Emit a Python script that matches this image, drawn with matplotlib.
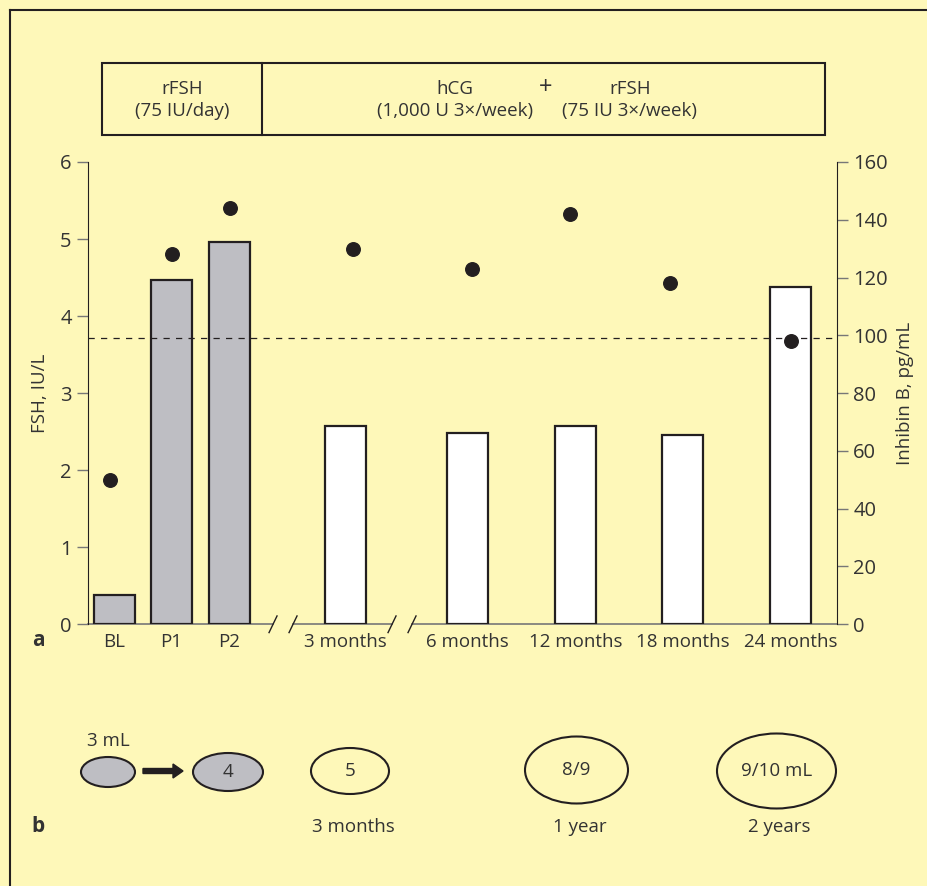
import matplotlib.pyplot as plt
from matplotlib.patches import Ellipse, Rectangle, FancyArrow

plt.rcParams['font.family'] = ['Open Sans', 'DejaVu Sans']

# data
categories = ["BL", "P1", "P2", "3 months", "6 months", "12 months", "18 months", "24 months"]
fsh = [0.38, 4.47, 4.96, 2.57, 2.48, 2.57, 2.46, 4.38]          # IU/L
inhibin_b = [50, 128, 144, 130, 123, 142, 118, 98]              # pg/mL
inhibin_ref = 99
phase = ["rFSH", "rFSH", "rFSH", "combo", "combo", "combo", "combo", "combo"]

volume_labels = ["", "4", "5", "8/9", "9/10 mL"]
volume_times = ["", "", "3 months", "1 year", "2 years"]

BG = "#fef8b9"
DARK = "#231f20"
TXT = "#333333"
GREY = "#bebec3"

# layout (pixel-like x units so axis breaks are easy to place)
xpos = [114, 171.5, 229, 345, 467.5, 575.5, 683, 790.5]
dot_x = [110, 171.5, 230, 352.5, 471.5, 569.5, 670.5, 791]
bar_w = 41
breaks = [283, 402]

fig = plt.figure(figsize=(9.28, 8.86), dpi=100)
fig.patch.set_facecolor(BG)

ax = fig.add_axes([0.0952, 0.2954, 0.8064, 0.5218])
ax.set_facecolor("none")
ax2 = ax.twinx()

colors = [GREY if p == "rFSH" else "white" for p in phase]
ax.bar(xpos, fsh, width=bar_w, color=colors, edgecolor=DARK, linewidth=1.6, zorder=2)
ax2.scatter(dot_x, inhibin_b, s=95, color=DARK, zorder=3)
ax2.axhline(inhibin_ref, color=DARK, linestyle=(0, (5, 5)), linewidth=0.9)

ax.set_xlim(88.3, 836.7)
ax.set_ylim(0, 6)
ax2.set_ylim(0, 160)
ax.set_yticks(range(0, 7))
ax2.set_yticks(range(0, 161, 20))
ax.set_xticks(xpos)
ax.set_xticklabels(categories)

for a in (ax, ax2):
    a.spines["top"].set_visible(False)
    a.spines["bottom"].set_visible(False)
    a.spines["left"].set_color(DARK)
    a.spines["right"].set_color(DARK)
    a.tick_params(axis="y", length=8, width=1, color="#777777", labelsize=14.5, labelcolor=TXT, pad=4)
ax.tick_params(axis="x", length=0, labelsize=13.5, labelcolor=TXT, pad=6)
ax2.spines["left"].set_visible(False)
ax.spines["right"].set_visible(False)

ax.set_ylabel("FSH, IU/L", fontsize=13.5, color=TXT, labelpad=8)
ax2.set_ylabel("Inhibin B, pg/mL", fontsize=13.5, color=TXT, labelpad=6)

# broken bottom axis
gap = 10
segs = [(88.3, breaks[0] - gap), (breaks[0] + gap, breaks[1] - gap), (breaks[1] + gap, 836.7)]
for x0, x1 in segs:
    ax.plot([x0, x1], [0, 0], color="#777777", lw=1.2, clip_on=False, zorder=1)
tr = ax.get_xaxis_transform()
for b in breaks:
    for x in (b - gap, b + gap):
        ax.plot([x - 4, x + 4], [-0.018, 0.018], transform=tr, color=DARK, lw=1, clip_on=False)

# overlay in pixel coordinates for the boxes and panel b
ov = fig.add_axes([0, 0, 1, 1])
ov.set_xlim(0, 928)
ov.set_ylim(886, 0)
ov.axis("off")
ov.set_facecolor("none")

ov.plot([10, 10], [886, 10], color=DARK, lw=1.5)
ov.plot([10, 930], [10, 10], color=DARK, lw=1.5)

ov.add_patch(Rectangle((102, 63), 723, 72, fill=False, edgecolor=DARK, lw=1.5))
ov.plot([262, 262], [63, 135], color=DARK, lw=1.5)
tkw = dict(ha="center", va="center", fontsize=13.5, color=TXT)
ov.text(182, 89, "rFSH", **tkw)
ov.text(182, 111, "(75 IU/day)", **tkw)
ov.text(455, 89, "hCG", **tkw)
ov.text(546, 88, "+", ha="center", va="center", fontsize=17, color=TXT)
ov.text(630, 89, "rFSH", **tkw)
ov.text(455, 111, "(1,000 U 3×/week)", **tkw)
ov.text(630, 111, "(75 IU 3×/week)", **tkw)

ov.text(38, 641, "a", ha="center", va="center", fontsize=15, fontweight="bold", color=TXT)
ov.text(38, 827, "b", ha="center", va="center", fontsize=15, fontweight="bold", color=TXT)

# panel b: testicular volumes
ell_x = [108, 228, 350, 576.5, 776.5]
ell_y = [772, 772, 771, 770, 771]
ell_w = [54, 70, 78, 103, 119]
ell_h = [30, 38, 46, 67, 75]
ell_fill = [GREY, GREY, "none", "none", "none"]
for x, y, w, h, f, lab, t in zip(ell_x, ell_y, ell_w, ell_h, ell_fill, volume_labels, volume_times):
    ov.add_patch(Ellipse((x, y), w, h, facecolor=f, edgecolor=DARK, lw=1.5))
    if lab:
        ov.text(x, y, lab, **tkw)
    if t:
        ov.text(x + 3, 827, t, **tkw)
ov.text(108, 741, "3 mL", **tkw)
ov.add_patch(FancyArrow(143, 771, 30, 0, width=5, head_width=14, head_length=10,
                        length_includes_head=False, color=DARK))

plt.savefig("out.png", dpi=100, facecolor=BG)
